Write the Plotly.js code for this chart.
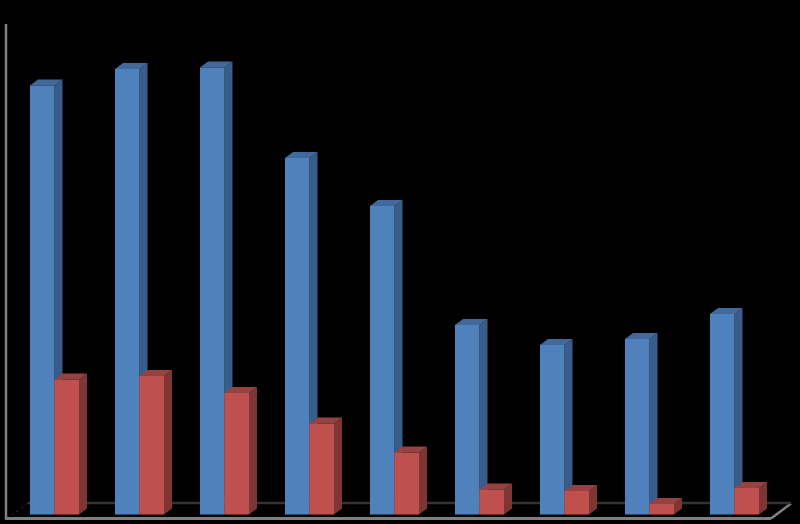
<!DOCTYPE html>
<html><head><meta charset="utf-8">
<script src="https://cdn.plot.ly/plotly-3.0.0.min.js"></script>
<style>html,body{margin:0;padding:0;background:#000;overflow:hidden}#c{width:800px;height:524px}</style>
</head><body><div id="c"></div>
<script>
const categories = [0,1,2,3,4,5,6,7,8];
const blueValues = [429,445.5,447,356.5,308.5,189.5,169.5,175.5,200.5];
const redValues  = [135,138.5,121.5,91,62,25,23.5,10.5,26.5];
const W=800,H=524;
const BAR_W=24.5/85, DX=8/85, DY=6;
const colors={blue:'#4f81bd',blueSide:'#385d8a',blueTop:'#41699b',red:'#c0504d',redSide:'#7f3533',redTop:'#964240'};
function sideFace(values,off){const x=[],y=[];values.forEach((v,k)=>{const c=categories[k]+off;
  x.push(c,c+DX,c+DX,c,c,null);y.push(0,DY,v+DY,v,0,null);});return{x,y};}
function topFace(values,off){const x=[],y=[];values.forEach((v,k)=>{const c=categories[k]+off;
  x.push(c-BAR_W,c-BAR_W+DX,c+DX,c,c-BAR_W,null);y.push(v,v+DY,v+DY,v,v,null);});return{x,y};}
function poly(p,color,xa,ya){return{type:'scatter',mode:'lines',x:p.x,y:p.y,fill:'toself',fillcolor:color,
  line:{width:0,color:color},hoverinfo:'skip',showlegend:false,xaxis:xa,yaxis:ya};}
const traces=[
  poly(sideFace(blueValues,0),colors.blueSide,'x','y'),
  poly(topFace(blueValues,0),colors.blueTop,'x','y'),
  {type:'bar',x:categories,y:blueValues,width:BAR_W,offset:-BAR_W,marker:{color:colors.blue,line:{width:0}},xaxis:'x2',yaxis:'y2',showlegend:false},
  {type:'bar',x:categories,y:redValues,width:BAR_W,offset:0,marker:{color:colors.red,line:{width:0}},xaxis:'x2',yaxis:'y2',showlegend:false},
  poly(sideFace(redValues,BAR_W),colors.redSide,'x2','y2'),
  poly(topFace(redValues,BAR_W),colors.redTop,'x2','y2')
];
const xr=[-54.5/85,(800-54.5)/85], yr=[-9.5,514.5];
const hid={visible:false,fixedrange:true};
const px=v=>v/W, py=v=>1-v/H;
const seg=(x0,y0,x1,y1,color,width,dash)=>({type:'line',xref:'paper',yref:'paper',x0:px(x0),y0:py(y0),x1:px(x1),y1:py(y1),layer:'below',line:{color,width,dash:dash||'solid'}});
const layout={width:W,height:H,margin:{l:0,r:0,t:0,b:0,pad:0},paper_bgcolor:'#000',plot_bgcolor:'rgba(0,0,0,0)',
  barmode:'overlay',showlegend:false,
  xaxis:{...hid,range:xr},yaxis:{...hid,range:yr},
  xaxis2:{...hid,range:xr,overlaying:'x'},yaxis2:{...hid,range:yr,overlaying:'y'},
  shapes:[
    seg(6,24,6,519,'#7f7f7f',2.5),
    seg(5,518.5,771,518.5,'#7f7f7f',3),
    seg(771,518.5,791,503.5,'#7f7f7f',2.5),
    seg(28,503,791,503,'#333333',2.5),
    seg(28,503,12,515,'#333333',1,'dot')
  ]};
Plotly.newPlot('c',traces,layout,{displayModeBar:false,staticPlot:true});
</script></body></html>
